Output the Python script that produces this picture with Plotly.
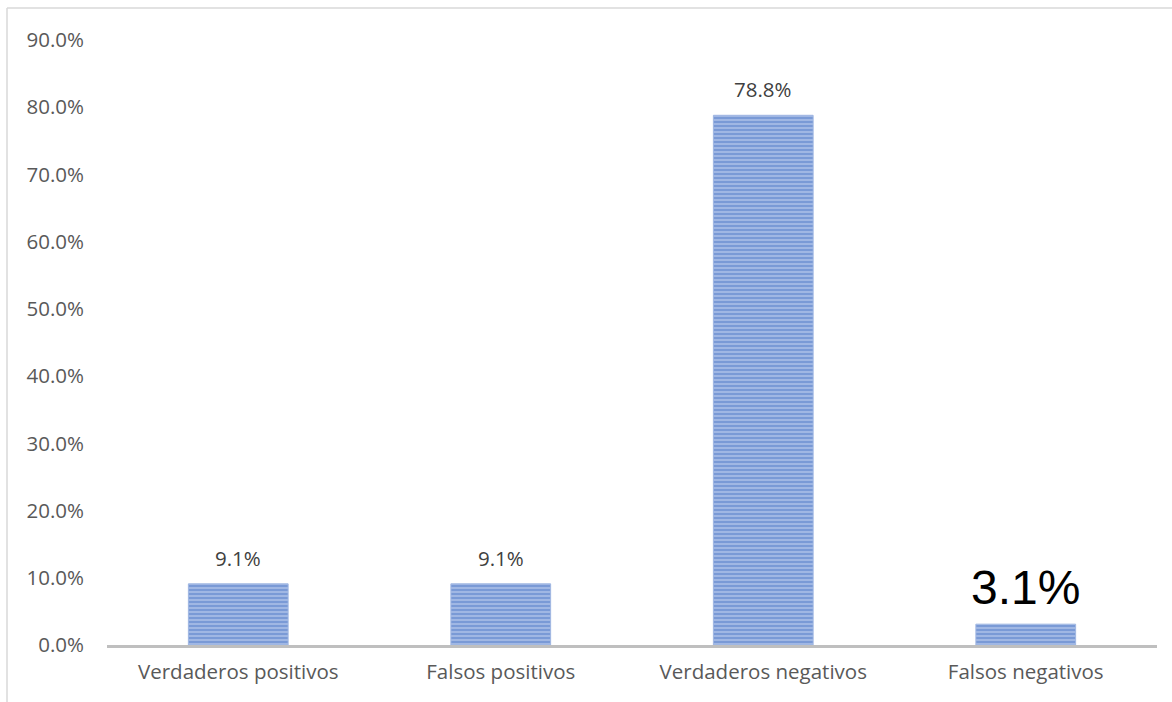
import plotly.graph_objects as go

categories = ["Verdaderos positivos", "Falsos positivos", "Verdaderos negativos", "Falsos negativos"]
values = [0.091, 0.091, 0.788, 0.031]
labels = ["9.1%", "9.1%", "78.8%", "3.1%"]
label_sizes = [20.5, 20.5, 20.5, 48]
label_colors = ["#404040", "#404040", "#404040", "#000000"]
label_fonts = ["Open Sans", "Open Sans", "Open Sans", "Liberation Sans"]
tick_vals = [0, 0.1, 0.2, 0.3, 0.4, 0.5, 0.6, 0.7, 0.8, 0.9]
tick_text = ["0.0%", "10.0%", "20.0%", "30.0%", "40.0%", "50.0%", "60.0%", "70.0%", "80.0%", "90.0%"]

W, H = 1172, 702
L, R, T, B = 107, 15, 40, 57
pw, ph = W - L - R, H - T - B

def px(x):
    return (x - L) / pw

def py(y):
    return (H - B - y) / ph

fig = go.Figure()
fig.add_trace(go.Bar(
    x=categories, y=values, width=0.38,
    marker=dict(color="#4472C4", line=dict(width=1, color="#9fb6e2"),
                pattern=dict(shape="-", size=4, solidity=0.7, fgcolor="#3c69c0", bgcolor="#b9cbec")),
    showlegend=False, hoverinfo="x+y",
))

annotations = []
for c, v, t, s, col, fam in zip(categories, values, labels, label_sizes, label_colors, label_fonts):
    annotations.append(dict(x=c, y=v, xref="x", yref="y", text=t, showarrow=False,
                            yanchor="bottom", yshift=10 if s < 30 else 8,
                            font=dict(size=s, color=col, family=fam)))

fig.update_layout(
    width=W, height=H,
    margin=dict(l=L, r=R, t=T, b=B),
    paper_bgcolor="white", plot_bgcolor="white",
    font=dict(family="Open Sans", size=20.5, color="#595959"),
    xaxis=dict(showline=True, linecolor="#bfbfbf", linewidth=3, showgrid=False, ticks="",
               tickfont=dict(size=20.5, color="#595959"), ticklabelstandoff=6),
    yaxis=dict(range=[0, 0.9], tickvals=tick_vals, ticktext=tick_text, showgrid=False,
               zeroline=False, showline=False, ticks="", ticklabelstandoff=22,
               tickfont=dict(size=20.5, color="#595959")),
    annotations=annotations,
    shapes=[
        dict(type="line", xref="paper", yref="paper", x0=px(7), x1=px(7), y0=py(702), y1=py(8),
             line=dict(color="#d9d9d9", width=1.5)),
        dict(type="line", xref="paper", yref="paper", x0=px(7), x1=px(1172), y0=py(8), y1=py(8),
             line=dict(color="#d9d9d9", width=1.5)),
    ],
)

fig.write_html("out.html")
